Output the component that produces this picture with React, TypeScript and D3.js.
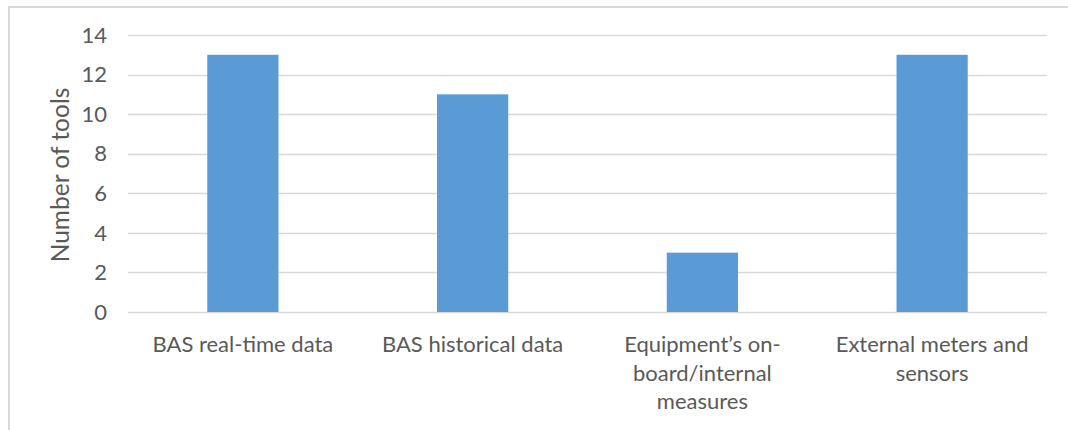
import React, { useEffect, useRef } from "react";
import * as d3 from "d3";

// chart data
const categories = [
  "BAS real-time data",
  "BAS historical data",
  "Equipment's on-board/internal measures",
  "External meters and sensors",
];
const categoryLines = [
  ["BAS real-time data"],
  ["BAS historical data"],
  ["Equipment\u2019s on-", "board/internal", "measures"],
  ["External meters and", "sensors"],
];
const toolCounts = [13, 11, 3, 13];
const yTicks = [0, 2, 4, 6, 8, 10, 12, 14];
const yTitle = "Number of tools";

const W = 1068;
const H = 430;
const FONT = "Lato, 'Open Sans', sans-serif";
const TEXT = "#595959";
const GRID = "#d9d9d9";
const BAR = "#5b9bd5";

export default function App() {
  const ref = useRef<SVGSVGElement>(null);

  useEffect(() => {
    if (!ref.current) return;
    const svg = d3.select(ref.current);
    svg.selectAll("*").remove();

    const plot = { left: 128, right: 1047, top: 35, bottom: 312 };

    const x = d3
      .scaleBand<string>()
      .domain(categories)
      .range([plot.left, plot.right])
      .paddingInner(0.69)
      .paddingOuter(0.345);

    const y = d3.scaleLinear().domain([0, 14]).range([plot.bottom, plot.top]);

    // outer frame (only top and left visible in the crop)
    svg
      .append("path")
      .attr("d", `M9,${H} L9,7 L${W},7`)
      .attr("fill", "none")
      .attr("stroke", GRID)
      .attr("stroke-width", 2);

    // gridlines
    svg
      .append("g")
      .selectAll("line")
      .data(yTicks)
      .enter()
      .append("line")
      .attr("x1", plot.left)
      .attr("x2", plot.right)
      .attr("y1", (d) => Math.round(y(d)) + 0.5)
      .attr("y2", (d) => Math.round(y(d)) + 0.5)
      .attr("stroke", GRID)
      .attr("stroke-width", 1.3);

    // y tick labels
    svg
      .append("g")
      .selectAll("text")
      .data(yTicks)
      .enter()
      .append("text")
      .attr("x", 107)
      .attr("y", (d) => y(d))
      .attr("dy", "0.35em")
      .attr("text-anchor", "end")
      .attr("font-family", FONT)
      .attr("font-size", 22)
      .attr("fill", TEXT)
      .text((d) => d);

    // bars
    svg
      .append("g")
      .selectAll("rect")
      .data(toolCounts)
      .enter()
      .append("rect")
      .attr("x", (_, i) => x(categories[i])!)
      .attr("width", x.bandwidth())
      .attr("y", (d) => y(d))
      .attr("height", (d) => y(0) - y(d))
      .attr("fill", BAR);

    // category labels
    const labels = svg
      .append("g")
      .selectAll("text")
      .data(categoryLines)
      .enter()
      .append("text")
      .attr("text-anchor", "middle")
      .attr("font-family", FONT)
      .attr("font-size", 22)
      .attr("fill", TEXT);

    labels.each(function (lines, i) {
      const cx = x(categories[i])! + x.bandwidth() / 2;
      d3.select(this)
        .selectAll("tspan")
        .data(lines)
        .enter()
        .append("tspan")
        .attr("x", cx)
        .attr("y", (_, j) => 352 + j * 28.5)
        .text((d) => d);
    });

    // y axis title
    svg
      .append("text")
      .attr("transform", `translate(69, 175) rotate(-90)`)
      .attr("text-anchor", "middle")
      .attr("font-family", FONT)
      .attr("font-size", 24.5)
      .attr("fill", TEXT)
      .text(yTitle);
  }, []);

  return (
    <div style={{ position: "absolute", left: 0, top: 0 }}>
      <svg ref={ref} width={W} height={H} style={{ display: "block", background: "#fff" }} />
    </div>
  );
}
